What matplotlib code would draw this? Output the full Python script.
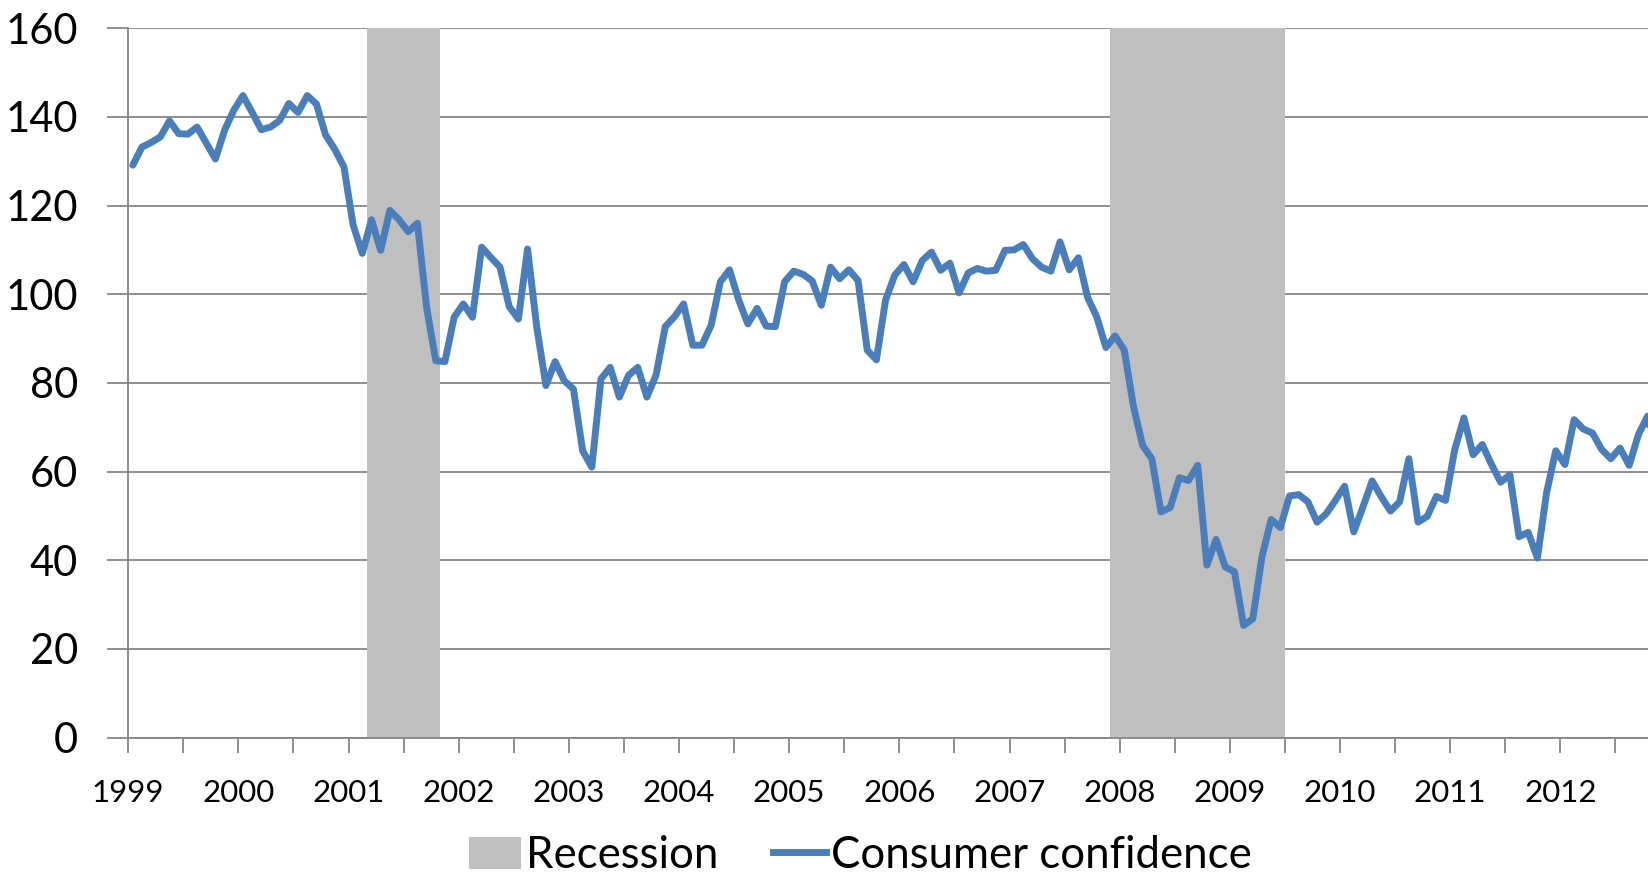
import matplotlib
matplotlib.use("Agg")
import matplotlib.pyplot as plt
from matplotlib.patches import Patch
from matplotlib.lines import Line2D
import pandas as pd
import numpy as np

plt.rcParams['font.family'] = ['Lato', 'DejaVu Sans']

# ---- data ----
start_month = "1999-01"
confidence = [
    129.1, 133.2, 134.2, 135.5, 139.1, 136.2, 136.1, 137.7, 134.1, 130.5, 137.0, 141.5,
    144.8, 141.0, 137.1, 137.7, 139.2, 143.0, 141.0, 144.8, 142.9, 135.9, 132.7, 128.7,
    115.6, 109.2, 116.8, 109.9, 118.9, 116.8, 114.1, 116.0, 97.1, 85.0, 84.8, 94.8,
    97.8, 94.8, 110.6, 108.3, 106.1, 97.2, 94.4, 110.2, 92.6, 79.4, 84.8, 80.5,
    78.6, 64.7, 61.0, 80.9, 83.5, 76.8, 81.7, 83.5, 76.8, 81.8, 92.7, 94.9,
    97.8, 88.5, 88.5, 93.0, 102.8, 105.5, 98.7, 93.3, 96.8, 92.8, 92.7, 102.8,
    105.2, 104.5, 103.0, 97.5, 106.1, 103.5, 105.5, 103.1, 87.4, 85.2, 98.7, 104.3,
    106.7, 102.8, 107.6, 109.5, 105.4, 107.0, 100.3, 104.8, 105.8, 105.2, 105.4, 109.9,
    110.0, 111.2, 108.0, 106.1, 105.2, 111.8, 105.5, 108.2, 99.3, 94.9, 88.0, 90.6,
    87.4, 74.7, 65.9, 62.9, 50.9, 51.9, 58.6, 58.0, 61.4, 38.9, 44.7, 38.5,
    37.4, 25.3, 26.8, 40.8, 49.2, 47.4, 54.5, 54.8, 53.2, 48.6, 50.5, 53.5,
    56.7, 46.4, 52.0, 57.9, 54.3, 51.1, 53.2, 62.9, 48.6, 49.9, 54.4, 53.5,
    65.0, 72.1, 63.8, 66.1, 61.6, 57.6, 59.3, 45.3, 46.3, 40.5, 55.2, 64.7,
    61.6, 71.7, 69.6, 68.7, 65.0, 62.9, 65.3, 61.4, 68.3, 72.5, 60.0,
]
recession_start = ["2001-03", "2007-12"]
recession_end = ["2001-10", "2009-06"]
year_labels = [str(y) for y in range(1999, 2013)]
y_ticks = [0, 20, 40, 60, 80, 100, 120, 140, 160]

pos = np.arange(len(confidence)) + 0.5   # category centres (between tick marks)
base = pd.Period(start_month, freq="M")

fig = plt.figure(figsize=(16.48, 8.8), dpi=100)
ax = fig.add_axes([0.0778, 0.1618, 1 - 0.0778, 0.968 - 0.1618])

rec_color = "#BFBFBF"
line_color = "#4A7EBB"
grid_color = "#868686"

for s, e in zip(recession_start, recession_end):
    i0 = (pd.Period(s, freq="M") - base).n
    i1 = (pd.Period(e, freq="M") - base).n + 1
    ax.axvspan(i0, i1, color=rec_color, lw=0, zorder=1)

ax.plot(pos, confidence, color=line_color, lw=5, zorder=3,
        solid_joinstyle="round", solid_capstyle="round")

ax.set_ylim(0, 160)
ax.set_xlim(0, 165.55)
ax.set_yticks(y_ticks)
ax.set_yticklabels([str(v) for v in y_ticks], fontsize=30)
ax.yaxis.grid(True, color=grid_color, lw=1.3, zorder=0)
ax.set_axisbelow(True)

xt = np.arange(0, 166, 6)
ax.set_xticks(xt)
labels = []
for t in xt:
    labels.append(year_labels[t // 12] if t % 12 == 0 and t // 12 < len(year_labels) else "")
ax.set_xticklabels(labels, fontsize=22.5)

ax.tick_params(axis="y", length=15, width=1.3, color=grid_color, pad=21)
ax.tick_params(axis="x", length=11, width=1.3, color=grid_color, pad=19)

for sp in ["top", "right"]:
    ax.spines[sp].set_visible(False)
for sp in ["left", "bottom"]:
    ax.spines[sp].set_color(grid_color)
    ax.spines[sp].set_linewidth(1.3)
    ax.spines[sp].set_zorder(4)

handles = [Patch(facecolor=rec_color, edgecolor="none", label="Recession"),
           Line2D([0], [0], color=line_color, lw=5, label="Consumer confidence")]
fig.legend(handles=handles, loc="center", bbox_to_anchor=(0.522, 0.028), ncol=2,
           frameon=False, fontsize=31.5, handlelength=1.2, handletextpad=0.12,
           columnspacing=1.25, handleheight=0.75, borderpad=0.0, borderaxespad=0.0)

fig.savefig("out.png", dpi=100)
